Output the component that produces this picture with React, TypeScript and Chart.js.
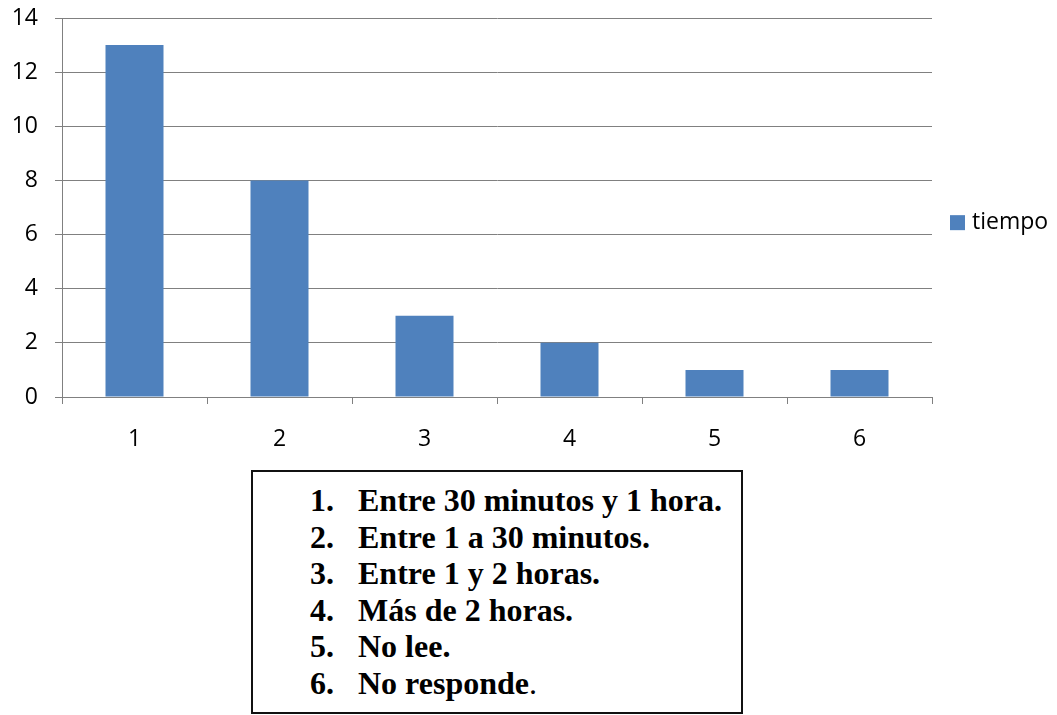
import React, { useEffect, useRef } from "react";
import { Chart, registerables } from "chart.js";

Chart.register(...registerables);

const categories = ["1", "2", "3", "4", "5", "6"];
const tiempo = [13, 8, 3, 2, 1, 1];
const seriesLabel = "tiempo";
const yMin = 0;
const yMax = 14;
const yStep = 2;
const listNumbers = ["1.", "2.", "3.", "4.", "5.", "6."];
const listTexts = [
  "Entre 30 minutos y 1 hora.",
  "Entre 1 a 30 minutos.",
  "Entre 1 y 2 horas.",
  "Más de 2 horas.",
  "No lee.",
  "No responde",
];
const listTails = ["", "", "", "", "", "."];

const GRID = "#808080";
const BAR = "#4F81BD";
const TICK_FONT = { family: "'Open Sans', sans-serif", size: 23 };

const legendPlugin = {
  id: "sideLegend",
  afterDraw(chart: any) {
    const ds = chart.data.datasets[0];
    const { ctx, chartArea } = chart;
    const x = chartArea.right + 18;
    const yc = chartArea.top + (chartArea.bottom - chartArea.top) * 0.54;
    ctx.save();
    ctx.fillStyle = ds.backgroundColor;
    ctx.fillRect(x, yc - 7.5, 15, 15);
    ctx.fillStyle = "#000";
    ctx.font = "23px 'Open Sans', sans-serif";
    ctx.textBaseline = "middle";
    ctx.textAlign = "left";
    ctx.fillText(ds.label, x + 22, yc);
    ctx.restore();
  },
};

export default function App() {
  const ref = useRef<HTMLCanvasElement | null>(null);

  useEffect(() => {
    const canvas = ref.current;
    if (!canvas) return;
    const chart = new Chart(canvas, {
      type: "bar",
      data: {
        labels: categories,
        datasets: [
          {
            label: seriesLabel,
            data: tiempo,
            backgroundColor: BAR,
            borderWidth: 0,
            barPercentage: 0.4,
            categoryPercentage: 1,
          },
        ],
      },
      options: {
        animation: false,
        responsive: false,
        maintainAspectRatio: false,
        layout: { padding: { left: 0, top: 18, right: 125, bottom: 0 } },
        plugins: {
          legend: { display: false },
          tooltip: { enabled: false },
          title: { display: false },
        },
        scales: {
          x: {
            offset: true,
            grid: {
              display: true,
              offset: true,
              drawOnChartArea: false,
              drawTicks: true,
              tickLength: 7,
              color: GRID,
              lineWidth: 1,
            },
            border: { display: true, color: GRID, width: 1 },
            ticks: { color: "#000", font: TICK_FONT, padding: 22, maxRotation: 0 },
            afterFit: (scale: any) => {
              scale.height = 73;
              scale.paddingLeft = 0;
              scale.paddingRight = 0;
            },
          },
          y: {
            min: yMin,
            max: yMax,
            grid: {
              color: GRID,
              lineWidth: 1,
              drawTicks: true,
              tickLength: 7,
            },
            border: { display: true, color: GRID, width: 1 },
            ticks: { stepSize: yStep, color: "#000", font: TICK_FONT, padding: 17 },
            afterFit: (scale: any) => {
              scale.width = 62;
              scale.paddingTop = 0;
              scale.paddingBottom = 0;
            },
          },
        },
      },
      plugins: [legendPlugin],
    });
    return () => chart.destroy();
  }, []);

  return (
    <div
      style={{
        position: "fixed",
        left: 0,
        top: 0,
        width: 1057,
        height: 715,
        background: "#fff",
        overflow: "hidden",
      }}
    >
      <canvas
        ref={ref}
        width={1057}
        height={470}
        style={{ position: "absolute", left: 0, top: 0, width: 1057, height: 470 }}
      />
      <div
        style={{
          position: "absolute",
          left: 251,
          top: 470,
          width: 492,
          height: 244,
          border: "2px solid #111",
          boxSizing: "border-box",
          fontFamily: "'Liberation Serif', 'Times New Roman', serif",
          fontSize: 32,
          lineHeight: "36.5px",
          color: "#000",
          paddingTop: 10,
        }}
      >
        {listTexts.map((t, i) => (
          <div key={i} style={{ position: "relative", height: 36.5, whiteSpace: "nowrap" }}>
            <span style={{ position: "absolute", left: 57, fontWeight: "bold" }}>{listNumbers[i]}</span>
            <span style={{ position: "absolute", left: 105 }}>
              <b>{t}</b>
              {listTails[i]}
            </span>
          </div>
        ))}
      </div>
    </div>
  );
}
